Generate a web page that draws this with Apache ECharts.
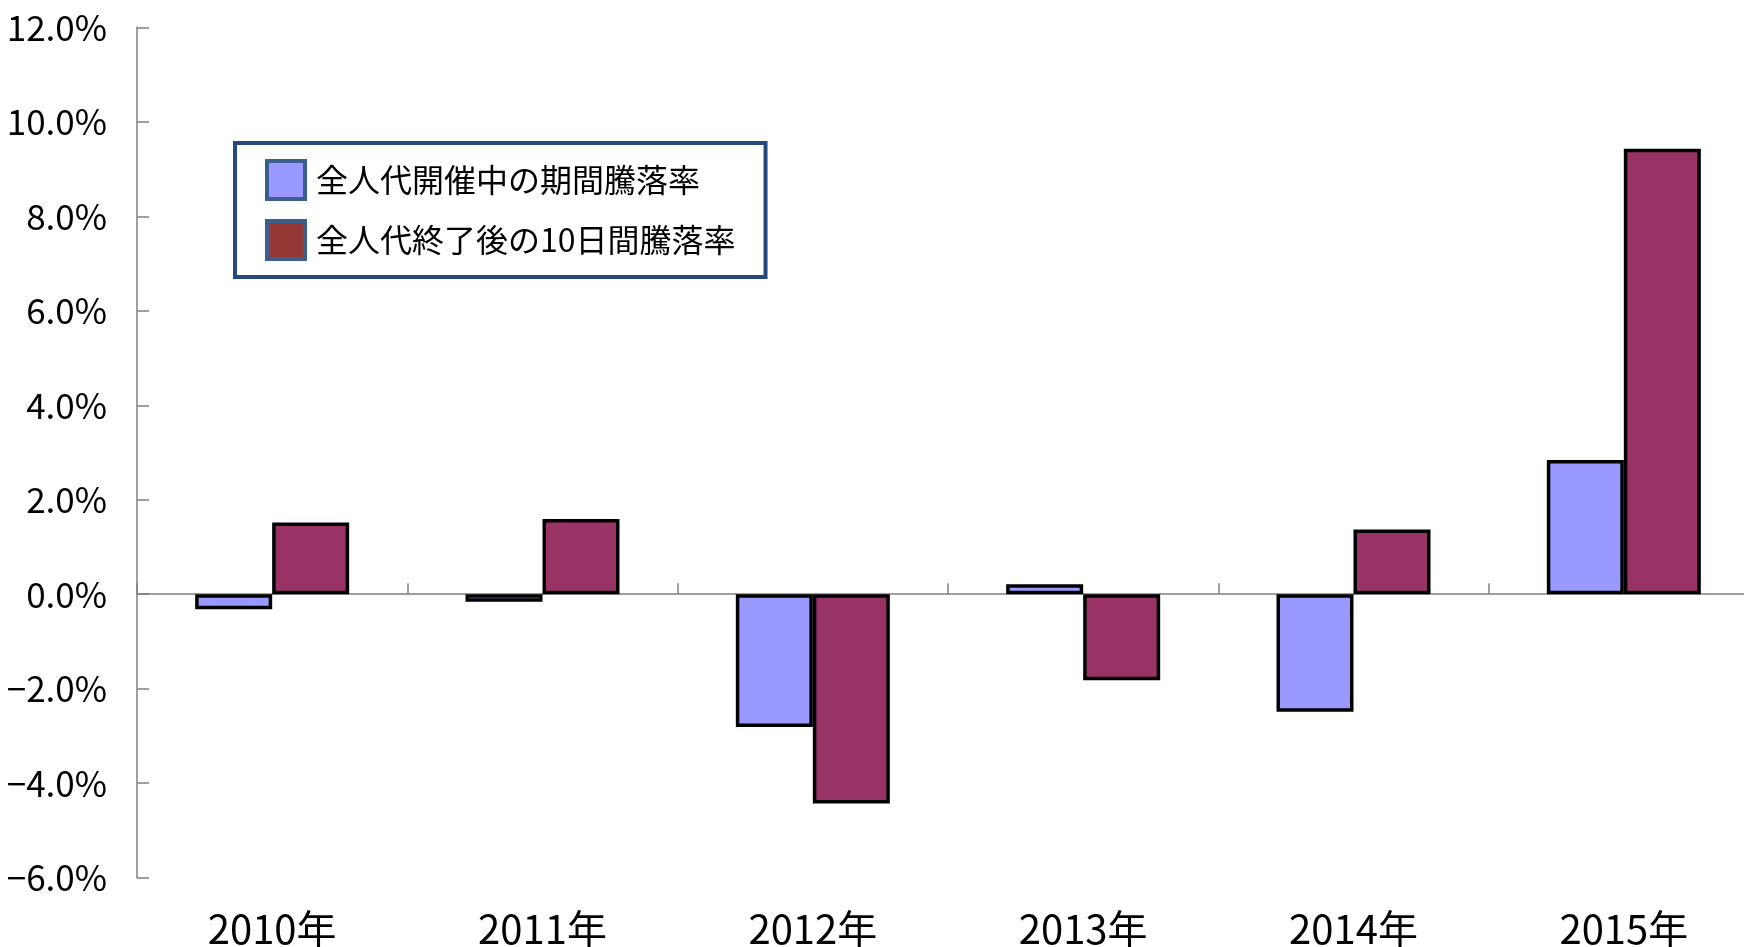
<!DOCTYPE html>
<html>
<head>
<meta charset="utf-8">
<script src="https://cdn.jsdelivr.net/npm/echarts@6/dist/echarts.min.js"></script>
<style>
html,body{margin:0;padding:0;background:#fff;}
#chart{width:1744px;height:947px;}
</style>
</head>
<body>
<div id="chart"></div>
<script>
const categories = ['2010年', '2011年', '2012年', '2013年', '2014年', '2015年'];
const seriesNames = ['全人代開催中の期間騰落率', '全人代終了後の10日間騰落率'];
const duringSession = [-0.32, -0.16, -2.81, 0.21, -2.49, 2.84];
const afterSession10d = [1.52, 1.59, -4.43, -1.82, 1.37, 9.43];
const yMin = -6, yMax = 12, yStep = 2;

const numFont = "'Liberation Sans Narrow', 'Arial Narrow', 'Noto Sans CJK JP', sans-serif";
const cjkFont = "'Noto Sans CJK JP', sans-serif";

const chart = echarts.init(document.getElementById('chart'), null, {renderer: 'canvas'});
chart.setOption({
  backgroundColor: '#ffffff',
  animation: false,
  grid: {left: 137, top: 27.3, bottom: 69.3, width: 1622, containLabel: false, outerBoundsMode: 'none'},
  legend: {
    orient: 'vertical',
    left: 235, top: 143,
    padding: [16, 30, 16, 30],
    borderColor: '#26497C',
    borderWidth: 4,
    backgroundColor: '#ffffff',
    itemWidth: 38, itemHeight: 38,
    itemGap: 18,
    textStyle: {fontFamily: cjkFont, fontSize: 32, color: '#000', padding: [0, 0, 0, 6]},
    data: [
      {name: seriesNames[0], icon: 'rect', itemStyle: {color: '#9999FF', borderColor: '#3B5E8C', borderWidth: 4}},
      {name: seriesNames[1], icon: 'rect', itemStyle: {color: '#953735', borderColor: '#3B5E8C', borderWidth: 4}}
    ]
  },
  xAxis: [
    {
      type: 'category', data: categories,
      axisLine: {onZero: true, lineStyle: {color: '#808080', width: 1.5}},
      axisTick: {show: true, inside: true, length: 11, lineStyle: {color: '#808080', width: 1.5}},
      axisLabel: {show: false},
      splitLine: {show: false}
    },
    {
      type: 'category', data: categories, position: 'bottom',
      axisLine: {show: false, onZero: false},
      axisTick: {show: false},
      axisLabel: {show: true, margin: 31, fontFamily: numFont, fontSize: 40, color: '#000'},
      splitLine: {show: false}
    }
  ],
  yAxis: {
    type: 'value', min: yMin, max: yMax, interval: yStep,
    axisLine: {show: true, lineStyle: {color: '#808080', width: 1.5}},
    axisTick: {show: true, inside: true, length: 12, lineStyle: {color: '#808080', width: 1.5}},
    splitLine: {show: false},
    axisLabel: {
      margin: 30, fontFamily: numFont, fontSize: 35, color: '#000',
      formatter: v => (v < 0 ? '\u2212' : '') + Math.abs(v).toFixed(1) + '%'
    }
  },
  series: [
    {
      name: seriesNames[0], type: 'bar', xAxisIndex: 0, data: duringSession,
      barWidth: 77, barGap: '0%',
      itemStyle: {color: '#9999FF', borderColor: '#000000', borderWidth: 3.5}
    },
    {
      name: seriesNames[1], type: 'bar', xAxisIndex: 0, data: afterSession10d,
      barWidth: 77, barGap: '0%',
      itemStyle: {color: '#993366', borderColor: '#000000', borderWidth: 3.5}
    }
  ]
});
</script>
</body>
</html>
